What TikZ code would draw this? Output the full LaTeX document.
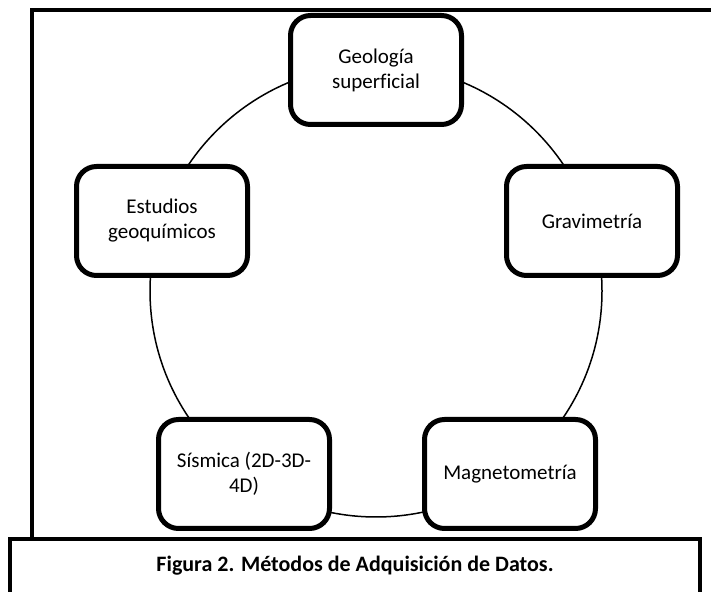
\documentclass[tikz,border=0pt]{standalone}
\usepackage{fontspec}
\setmainfont{Carlito}[Ligatures={NoCommon}]
\begin{document}
\begin{tikzpicture}[x=1pt,y=1pt,
  method/.style={draw=black, line width=5pt, rounded corners=20pt, fill=white,
    minimum width=171pt, minimum height=109pt, align=center, inner sep=4pt,
    font=\fontsize{21}{25}\selectfont},
  frame/.style={line width=3.2pt, line cap=rect},
  ring/.style={line width=1.5pt}]
\useasboundingbox (0,0) rectangle (711,591);
\clip (0,0) rectangle (711,591);
\fill[white] (0,0) rectangle (711,591);
% outer frame
\draw[frame] (32,52) -- (32,581) -- (720,581);
% circle
\coordinate (c) at (376,300);
\draw[ring] (c) circle[radius=226];
% methods
\node[method] (geo) at (376,521) {Geología\\superficial};
\node[method] (grav) at (592,370) {Gravimetría};
\node[method] (est) at (162,370) {Estudios\\geoquímicos};
\node[method] (mag) at (510,117) {Magnetometría};
\node[method] (sis) at (244,117) {Sísmica (2D-3D-\\4D)};
% caption box
\draw[frame] (10,-10) -- (10,52) -- (700,52) -- (700,-10);
\node[font=\fontsize{22}{26}\selectfont\bfseries] (cap) at (355,25) {Figura 2. Métodos de Adquisición de Datos.};
\end{tikzpicture}
\end{document}
